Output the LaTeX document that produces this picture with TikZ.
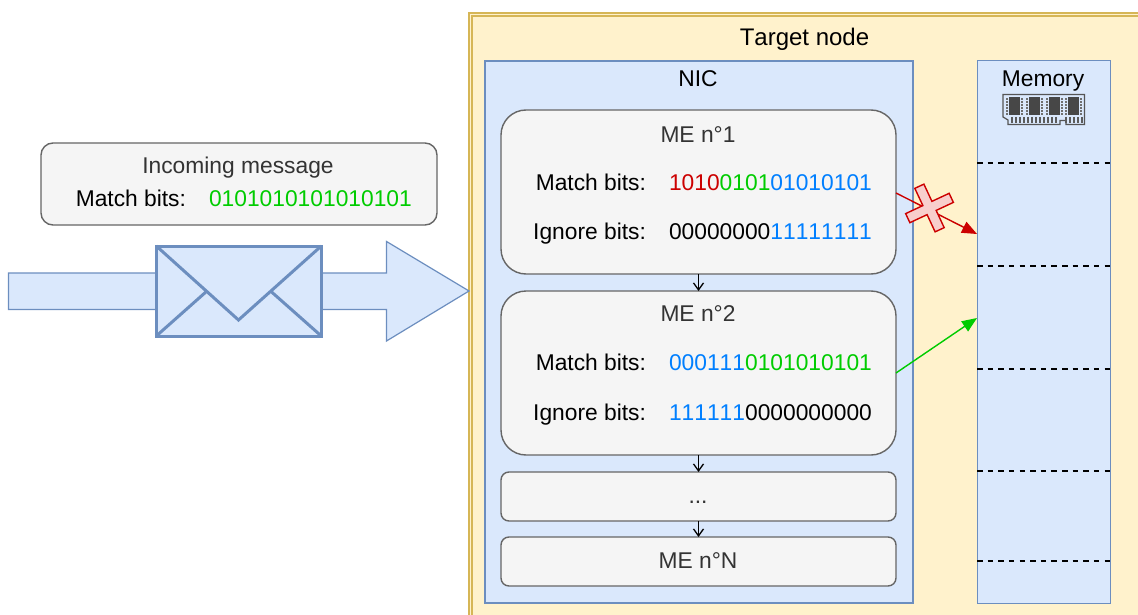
\documentclass[tikz,border=0pt]{standalone}
\usepackage{fontspec}
\setmainfont[Kerning=Off]{Liberation Sans}
\usetikzlibrary{arrows.meta}
\definecolor{bitred}{RGB}{204,0,0}
\definecolor{bitgreen}{RGB}{0,204,0}
\definecolor{bitblue}{RGB}{0,127,255}
\definecolor{greytext}{RGB}{51,51,51}
\begin{document}
\begin{tikzpicture}[x=1pt,y=-1pt,font=\fontsize{22.8}{26}\selectfont]
    % Node styles
    \tikzstyle{none}=[inner sep=0mm, outer sep=0mm, anchor=base]
    \tikzstyle{right text}=[inner sep=0mm, outer sep=0mm, anchor=base east]
    \tikzstyle{left text}=[inner sep=0mm, outer sep=0mm, anchor=base west]
    \tikzstyle{grey text}=[inner sep=0mm, outer sep=0mm, anchor=base, text=greytext]
    \tikzstyle{target box}=[fill={rgb,255: red,255; green,242; blue,204}, shape=rectangle, outer sep=0mm, minimum width=669pt, minimum height=602pt]
    \tikzstyle{blue box}=[fill={rgb,255: red,218; green,232; blue,252}, draw={rgb,255: red,108; green,142; blue,191}, line width=1.4pt, shape=rectangle, outer sep=0mm]
    \tikzstyle{nic box}=[style=blue box, minimum width=428pt, minimum height=542pt]
    \tikzstyle{memory box}=[style=blue box, line width=1pt, minimum width=133pt, minimum height=543pt]
    \tikzstyle{envelope box}=[style=blue box, line width=3pt, minimum width=165pt, minimum height=90pt]
    \tikzstyle{grey box}=[fill={rgb,255: red,245; green,245; blue,245}, draw={rgb,255: red,102; green,102; blue,102}, line width=1.4pt, shape=rectangle, rounded corners=8pt, outer sep=0mm, minimum width=395pt, minimum height=49pt]
    \tikzstyle{large box}=[style=grey box, rounded corners=25pt, minimum height=164pt]
    \tikzstyle{message box}=[style=grey box, rounded corners=12pt, minimum width=396pt, minimum height=82pt]
    % Edge styles
    \tikzstyle{arrow}=[-{Straight Barb[length=7pt,width=10pt]}, line width=1.3pt]
    \tikzstyle{red arrow}=[-{Triangle[length=15pt,width=12pt]}, line width=1.4pt, draw=bitred, fill=bitred]
    \tikzstyle{green arrow}=[-{Triangle[length=15pt,width=12pt]}, line width=1.4pt, draw=bitgreen, fill=bitgreen]
    \tikzstyle{gold line}=[draw={rgb,255: red,214; green,182; blue,86}, line width=1.6pt]
    \tikzstyle{slot line}=[dash pattern=on 5.5pt off 5.13pt, line width=1.4pt]
    \tikzstyle{flap line}=[draw={rgb,255: red,108; green,142; blue,191}, line width=3pt]
    \tikzstyle{cross mark}=[fill={rgb,255: red,248; green,206; blue,204}, draw=bitred, line width=1.4pt]
    \tikzstyle{ram line}=[draw={rgb,255: red,85; green,85; blue,85}, fill={rgb,255: red,218; green,232; blue,252}, line width=1.2pt]

    \useasboundingbox (0, 0) rectangle (1138, 615);

    % Target node
    \node [style=target box] (target) at (803.5, 314) {};
    \draw [style=gold line] (468.8, 615) |- (1138, 12.8);
    \draw [style=gold line] (472.2, 615) |- (1138, 15.8);
    \node [style=none] (targetlabel) at (804.5, 46) {\fontsize{24}{26}\selectfont Target node};

    % Incoming message
    \draw [fill={rgb,255: red,218; green,232; blue,252}, draw={rgb,255: red,108; green,142; blue,191}, line width=1.2pt] (8.5, 273) -- (386.5, 273) -- (386.5, 241.5) -- (469, 291) -- (386.5, 341) -- (386.5, 309.5) -- (8.5, 309.5) -- cycle;
    \node [style=envelope box] (envelope) at (238.8, 291) {};
    \node [style=none] (flap) at (238.5, 320) {};
    \node [style=none] (flapleft) at (207, 291) {};
    \node [style=none] (flapright) at (270.5, 291) {};
    \draw [style=flap line] (envelope.north west) to (flap.center) to (envelope.north east);
    \draw [style=flap line] (envelope.south west) to (flapleft.center);
    \draw [style=flap line] (envelope.south east) to (flapright.center);
    \node [style=message box] (message) at (239, 184) {};
    \node [style=grey text] (messagetitle) at (238, 174) {Incoming message};
    \node [style=right text] (messagelabel) at (186, 206) {Match bits:};
    \node [style=left text] (messagebits) at (209, 206) {\textcolor{bitgreen}{0101010101010101}};

    % NIC
    \node [style=nic box] (nic) at (699, 332) {};
    \node [style=none] (niclabel) at (698, 87) {NIC};
    \node [style=large box] (me1) at (698.5, 192) {};
    \node [style=large box] (me2) at (698.5, 373) {};
    \node [style=grey box] (dots) at (698.5, 496.5) {};
    \node [style=grey box] (men) at (698.5, 561.5) {};
    \node [style=grey text] (me1title) at (698, 142.5) {ME n°1};
    \node [style=right text] (me1match) at (646, 190) {Match bits:};
    \node [style=right text] (me1ignore) at (646, 239) {Ignore bits:};
    \node [style=left text] (me1matchbits) at (669, 190) {\textcolor{bitred}{1010}\textcolor{bitgreen}{0101}\textcolor{bitblue}{01010101}};
    \node [style=left text] (me1ignorebits) at (669, 239) {00000000\textcolor{bitblue}{11111111}};
    \node [style=grey text] (me2title) at (698, 321) {ME n°2};
    \node [style=right text] (me2match) at (646, 370) {Match bits:};
    \node [style=right text] (me2ignore) at (646, 420) {Ignore bits:};
    \node [style=left text] (me2matchbits) at (669, 370) {\textcolor{bitblue}{000111}\textcolor{bitgreen}{0101010101}};
    \node [style=left text] (me2ignorebits) at (669, 420) {\textcolor{bitblue}{111111}0000000000};
    \node [style=grey text] (dotslabel) at (698, 503.5) {...};
    \node [style=grey text] (menlabel) at (698, 568) {ME n°N};

    % Memory
    \node [style=memory box] (memory) at (1043.5, 332) {};
    \node [style=none] (memorylabel) at (1043, 87) {Memory};
    \foreach \y in {163,266,369,471,561}
        \draw [style=slot line] (977, \y) to (1110, \y);
    \draw [style=ram line] (1003, 94.5) -- (1084.5, 94.5) -- (1084.5, 124.5) -- (1066, 124.5) -- (1066, 120.5) -- (1060, 120.5) -- (1060, 124.5) -- (1008, 124.5) -- (1008, 120) -- (1003, 117) -- cycle;
    \foreach \x in {1009,1029,1049,1068} {
        \fill [greytext!90] (\x, 97) rectangle +(10.5, 18);
        \foreach \y in {98,101,...,113} {
            \fill [greytext!70] (\x-3.5, \y) rectangle +(2.5, 1.6);
            \fill [greytext!70] (\x+11.5, \y) rectangle +(2.5, 1.6);
        }
    }
    \foreach \x in {1012,1016,...,1056,1066,1070,...,1082}
        \draw [greytext!80, line width=1.2pt] (\x, 117) to (\x, 123.5);

    % Links
    \node [style=none] (redstart) at (896, 193) {};
    \node [style=none] (redend) at (977, 234) {};
    \node [style=none] (greenstart) at (896, 373) {};
    \node [style=none] (greenend) at (977, 318) {};
    \draw [style=arrow] (me1) to (me2);
    \draw [style=arrow] (me2) to (dots);
    \draw [style=arrow] (dots) to (men);
    \draw [style=red arrow] (redstart.center) to (redend.center);
    \draw [style=green arrow] (greenstart.center) to (greenend.center);
    \draw [style=cross mark, shift={(929.5, 208)}, rotate=25] (-24, -5) -- (-5, -5) -- (-5, -24) -- (5, -24) -- (5, -5) -- (24, -5) -- (24, 5) -- (5, 5) -- (5, 24) -- (-5, 24) -- (-5, 5) -- (-24, 5) -- cycle;
\end{tikzpicture}
\end{document}
